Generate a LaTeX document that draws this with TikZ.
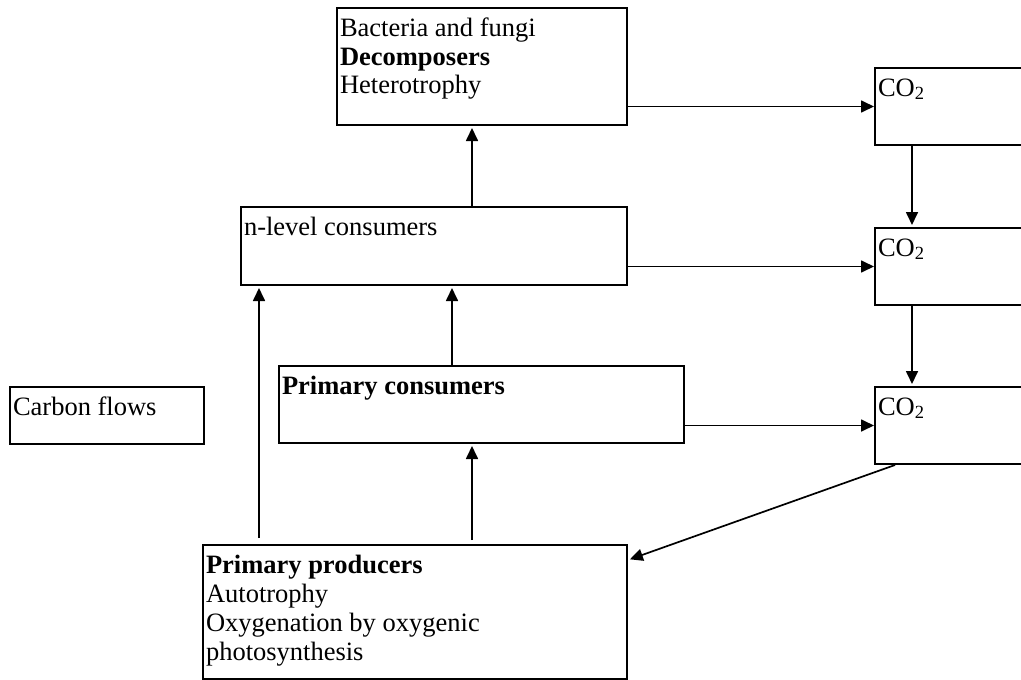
\documentclass[tikz,border=0pt]{standalone}
\usepackage{fontspec}
\setmainfont{Liberation Serif}
\usetikzlibrary{arrows.meta}

% box content: top-aligned text block of fixed size
\newcommand{\boxcontent}[3]{%
  \begin{minipage}[t][#2][t]{#1}%
    \fontsize{26.5}{29}\selectfont\raggedright
    \leftskip=3pt
    \rule{0pt}{28pt}#3%
  \end{minipage}}

\tikzset{
  flowbox/.style={draw, line width=2pt, inner sep=0pt, anchor=north west},
  flowarrow/.style={line width=1.7pt, -{Triangle[length=13pt,width=12pt]}, shorten >=2pt}
}

\begin{document}
\begin{tikzpicture}[x=1pt, y=-1pt]
  \clip (0,0) rectangle (1021,680);
  \fill[white] (0,0) rectangle (1021,680);

  % boxes
  \node[flowbox] (dec) at (336,7)
    {\boxcontent{290pt}{117pt}{Bacteria and fungi\\\textbf{Decomposers}\\Heterotrophy}};
  \node[flowbox] (nlev) at (240,206)
    {\boxcontent{386pt}{78pt}{n-level consumers}};
  \node[flowbox] (pcons) at (278,365)
    {\boxcontent{405pt}{77pt}{\textbf{Primary consumers}}};
  \node[flowbox] (cflow) at (9,386)
    {\boxcontent{194pt}{57pt}{Carbon flows}};
  \node[flowbox] (prod) at (202,544)
    {\boxcontent{424pt}{134pt}{\textbf{Primary producers}\\Autotrophy\\Oxygenation by oxygenic\\photosynthesis}};
  \node[flowbox] (co1) at (874,67)
    {\boxcontent{170pt}{77pt}{CO\textsubscript{2}}};
  \node[flowbox] (co2) at (874,227)
    {\boxcontent{170pt}{77pt}{CO\textsubscript{2}}};
  \node[flowbox] (co3) at (874,386)
    {\boxcontent{170pt}{77pt}{CO\textsubscript{2}}};

  % anchor points for the vertical connectors
  \coordinate (decin)   at ([xshift=-10pt]dec.south);
  \coordinate (nlevin1) at ([xshift=19pt]nlev.south west);
  \coordinate (nlevin2) at ([xshift=18pt]nlev.south);
  \coordinate (pconsin) at ([xshift=-9.5pt]pcons.south);
  \coordinate (co1out)  at ([xshift=38pt]co1.south west);
  \coordinate (co2out)  at ([xshift=38pt]co2.south west);
  \coordinate (co3out)  at ([xshift=21pt]co3.south west);
  \coordinate (prodin)  at ([yshift=-16pt]prod.north east);

  % respiration to the CO2 pool
  \draw[flowarrow, shorten >=0pt] (dec.east |- co1.west) -- (co1.west);
  \draw[flowarrow, shorten >=0pt] (nlev.east |- co2.west) -- (co2.west);
  \draw[flowarrow, shorten >=0pt] (pcons.east |- co3.west) -- (co3.west);

  % CO2 pool chain and fixation
  \draw[flowarrow] (co1out) -- (co1out |- co2.north);
  \draw[flowarrow] (co2out) -- (co2out |- co3.north);
  \draw[flowarrow] (co3out) -- (prodin);

  % trophic transfers
  \draw[flowarrow, shorten <=6pt] (prod.north -| nlevin1) -- (nlevin1);
  \draw[flowarrow, shorten <=4pt] (prod.north -| pconsin) -- (pconsin);
  \draw[flowarrow] (pcons.north -| nlevin2) -- (nlevin2);
  \draw[flowarrow] (nlev.north -| decin) -- (decin);
\end{tikzpicture}
\end{document}
